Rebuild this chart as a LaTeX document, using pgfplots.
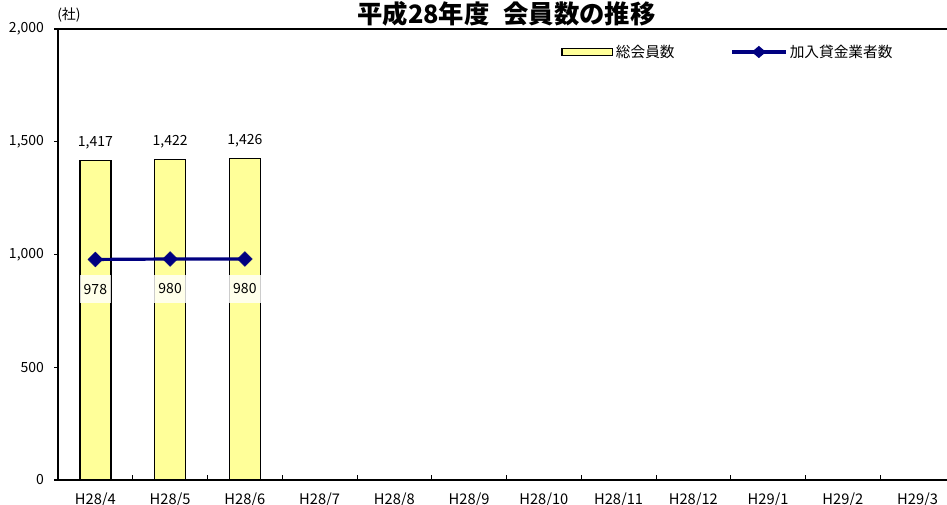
\documentclass[border=0pt]{standalone}
\usepackage{fontspec}
\setmainfont{Noto Sans CJK JP}
\usepackage{pgfplots}
\pgfplotsset{compat=1.18}
\definecolor{barY}{RGB}{255,255,153}
\definecolor{navyc}{RGB}{0,0,128}
\begin{document}
\begin{tikzpicture}
\useasboundingbox (0pt,0pt) rectangle (710.25pt,378.75pt);
\begin{pgfinterruptboundingbox}
\begin{scope}
\clip (0pt,0pt) rectangle (710.25pt,378.75pt);
\begin{axis}[
  at={(43.5pt,18.75pt)}, anchor=south west,
  width=672.75pt, height=338.25pt, scale only axis,
  xmin=-0.5, xmax=11.5, ymin=0, ymax=2000,
  separate axis lines,
  axis line style={line width=1.5pt, black},
  tick pos=left,
  tick align=outside,
  major tick length=3pt,
  minor tick length=4pt,
  xtick={0,1,2,3,4,5,6,7,8,9,10,11},
  xticklabels={H28/4,H28/5,H28/6,H28/7,H28/8,H28/9,H28/10,H28/11,H28/12,H29/1,H29/2,H29/3},
  minor xtick={0.5,1.5,2.5,3.5,4.5,5.5,6.5,7.5,8.5,9.5,10.5},
  x tick style={draw=none},
  minor x tick style={draw=black, line width=0.6pt, yshift=4pt},
  y tick style={line width=0.8pt, black},
  ytick={0,500,1000,1500,2000},
  xticklabel style={font=\fontsize{11}{12}\selectfont, anchor=base, yshift=-15.5pt},
  yticklabel style={font=\fontsize{10.5}{11}\selectfont, xshift=-4pt},
  /pgf/number format/assume math mode=true,
  /pgf/number format/1000 sep={,},
  legend style={at={(0.556,0.949)}, anchor=west, draw=none, fill=none,
    font=\fontsize{11}{12}\selectfont, legend columns=2,
    /tikz/every even column/.append style={column sep=40pt}},
  clip=false,
]
\addplot[draw=black, fill=barY, line width=1.2pt, ybar, bar width=23.25pt,
  nodes near coords,
  every node near coord/.append style={anchor=center, yshift=13pt, font=\fontsize{10.5}{11}\selectfont, text=black},
  legend image code/.code={\draw[fill=barY, line width=1.2pt] (0pt,-2.5pt) rectangle (38pt,2.5pt);}]
  coordinates {(0,1417) (1,1422) (2,1426)};
\addlegendentry{総会員数}
\addplot[color=navyc, line width=2.4pt, mark=square*, mark size=3.9pt,
  mark options={solid, rotate=45, line width=0.4pt, fill=navyc},
  nodes near coords,
  every node near coord/.append style={anchor=center, yshift=-22.5pt, fill=white, fill opacity=0.8, text opacity=1, minimum width=23.5pt, minimum height=21pt, inner sep=0pt, font=\fontsize{10.5}{11}\selectfont, text=black},
  legend image code/.code={\draw[navyc, line width=2.4pt] (0pt,0pt) -- (40pt,0pt);
    \fill[navyc] (16.5pt,0pt) -- (20pt,3pt) -- (23.5pt,0pt) -- (20pt,-3pt) -- cycle;}]
  coordinates {(0,978) (1,980) (2,980)};
\addlegendentry{加入貸金業者数}
\node[font=\bfseries\fontsize{19}{20}\selectfont, anchor=center] at (rel axis cs:0.5,1) [yshift=11.5pt] {平成28年度\hspace{0.55em}会員数の推移};
\node[font=\fontsize{10.5}{11}\selectfont, anchor=center] at (rel axis cs:0,1) [xshift=8.25pt, yshift=10.5pt] {(社)};
\end{axis}
\end{scope}
\end{pgfinterruptboundingbox}
\end{tikzpicture}
\end{document}
